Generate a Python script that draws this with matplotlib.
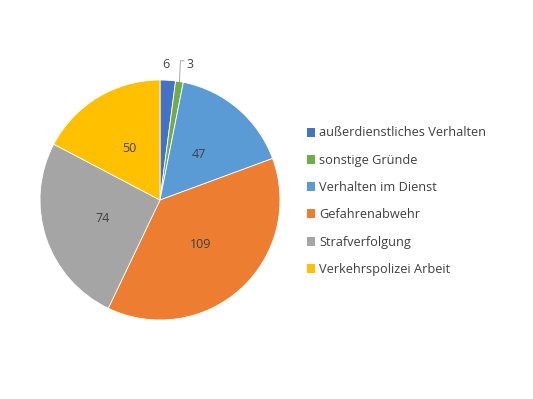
import matplotlib
matplotlib.use("Agg")
import matplotlib.pyplot as plt
import numpy as np
from matplotlib.patches import Patch

categories = ["außerdienstliches Verhalten", "sonstige Gründe", "Verhalten im Dienst",
              "Gefahrenabwehr", "Strafverfolgung", "Verkehrspolizei Arbeit"]
values = [6, 3, 47, 109, 74, 50]
colors = ["#4472C4", "#70AD47", "#5B9BD5", "#ED7D31", "#A5A5A5", "#FFC000"]

plt.rcParams['font.family'] = ['Open Sans', 'DejaVu Sans']

W, H = 533, 399
fig = plt.figure(figsize=(W / 100, H / 100), dpi=100)
cx, cy, r = 160, 200, 120
ax = fig.add_axes([(cx - r) / W, (H - cy - r) / H, 2 * r / W, 2 * r / H])
wedges, _ = ax.pie(values, colors=colors, startangle=90, counterclock=False,
                   radius=1, wedgeprops=dict(edgecolor="white", linewidth=0.6))
ax.set_xlim(-1, 1)
ax.set_ylim(-1, 1)
ax.set_aspect("equal")
ax.axis("off")

txt_col = "#404040"
for i, (w, v) in enumerate(zip(wedges, values)):
    mid = np.deg2rad((w.theta1 + w.theta2) / 2)
    if v >= 20:
        ax.text(0.5 * np.cos(mid), 0.5 * np.sin(mid), str(v), ha="center", va="center",
                fontsize=9, color=txt_col)
    elif i == 0:
        ax.text(0.05, 1.13, str(v), ha="center", va="center", fontsize=9, color=txt_col,
                clip_on=False)
    else:
        ax.text(0.25, 1.13, str(v), ha="center", va="center", fontsize=9, color=txt_col,
                clip_on=False)
        ex, ey = np.cos(mid), np.sin(mid)
        ax.plot([0.2, 0.17, ex], [1.16, 1.16, ey], color="#A6A6A6", lw=0.7,
                clip_on=False)

handles = [Patch(facecolor=c, edgecolor="none") for c in colors]
fig.legend(handles, categories, loc="upper left", bbox_to_anchor=(295 / W, 1 - 115 / H),
           frameon=False, fontsize=9.2, handlelength=0.7, handleheight=0.7,
           handletextpad=0.3, labelspacing=1.12, labelcolor=txt_col)

fig.savefig("out.png", dpi=100)
